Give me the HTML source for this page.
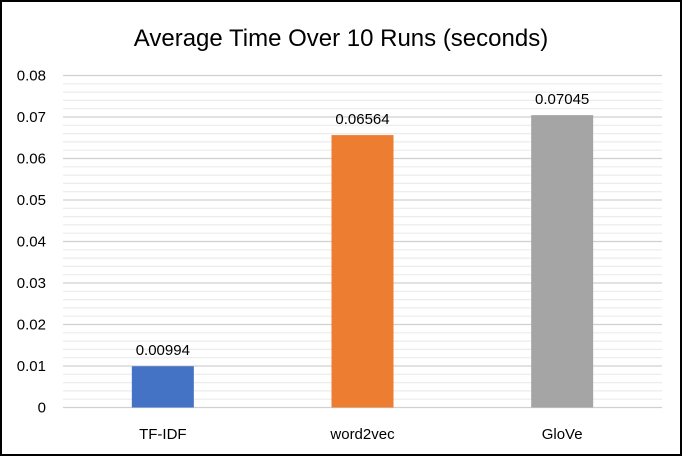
<!DOCTYPE html>
<html><head><meta charset="utf-8"><style>
body{margin:0;background:#fff}
svg{display:block;font-family:"Liberation Sans",Arial,sans-serif}
</style></head><body>
<svg id="c" width="682" height="456">
<rect x="1" y="1" width="680" height="454" fill="#fff" stroke="#000" stroke-width="2"/>
<text x="341" y="46" text-anchor="middle" font-size="24" fill="#000">Average Time Over 10 Runs (seconds)</text>
<g id="grid"></g><g id="bars"></g><g id="labels"></g>
</svg>
<script>
const categories=["TF-IDF","word2vec","GloVe"];
const values=[0.00994,0.06564,0.07045];
const valueLabels=["0.00994","0.06564","0.07045"];
const colors=["#4472C4","#ED7D31","#A5A5A5"];
const yTicks=[0,0.01,0.02,0.03,0.04,0.05,0.06,0.07,0.08];
const yTickLabels=["0","0.01","0.02","0.03","0.04","0.05","0.06","0.07","0.08"];
const NS="http://www.w3.org/2000/svg";
const x0=63,x1=662,yBase=407.5,yTop=75.5,yMax=0.08;
const y=v=>yBase-(v/yMax)*(yBase-yTop);
const band=(x1-x0)/categories.length;
const xc=i=>x0+band*(i+0.5);
function mk(t,a,p){const e=document.createElementNS(NS,t);for(const k in a)e.setAttribute(k,a[k]);p.appendChild(e);return e;}
const g=document.getElementById('grid'),b=document.getElementById('bars'),l=document.getElementById('labels');
for(let k=0;k<40;k++){const v=k*0.002;if(k%5===0)continue;
const ln=mk('line',{x1:x0,x2:x1,y1:y(v),y2:y(v),stroke:'#ececec','stroke-width':1.2},g);

}
yTicks.forEach((v,i)=>{
const ln=mk('line',{x1:x0,x2:x1,y1:y(v),y2:y(v),stroke:'#d0d0d0','stroke-width':1.3},g);


const t=mk('text',{x:46,y:y(v)+5,'text-anchor':'end','font-size':15,fill:'#000'},l);
t.textContent=yTickLabels[i];

});
categories.forEach((c,i)=>{
const r=mk('rect',{x:xc(i)-31,y:y(values[i]),width:62,height:yBase-y(values[i]),fill:colors[i]},b);


const t=mk('text',{x:xc(i),y:y(values[i])-11,'text-anchor':'middle','font-size':15,fill:'#000'},l);
t.textContent=valueLabels[i];


const xt=mk('text',{x:xc(i),y:439,'text-anchor':'middle','font-size':15,fill:'#000'},l);
xt.textContent=c;

});
</script>
</body></html>
